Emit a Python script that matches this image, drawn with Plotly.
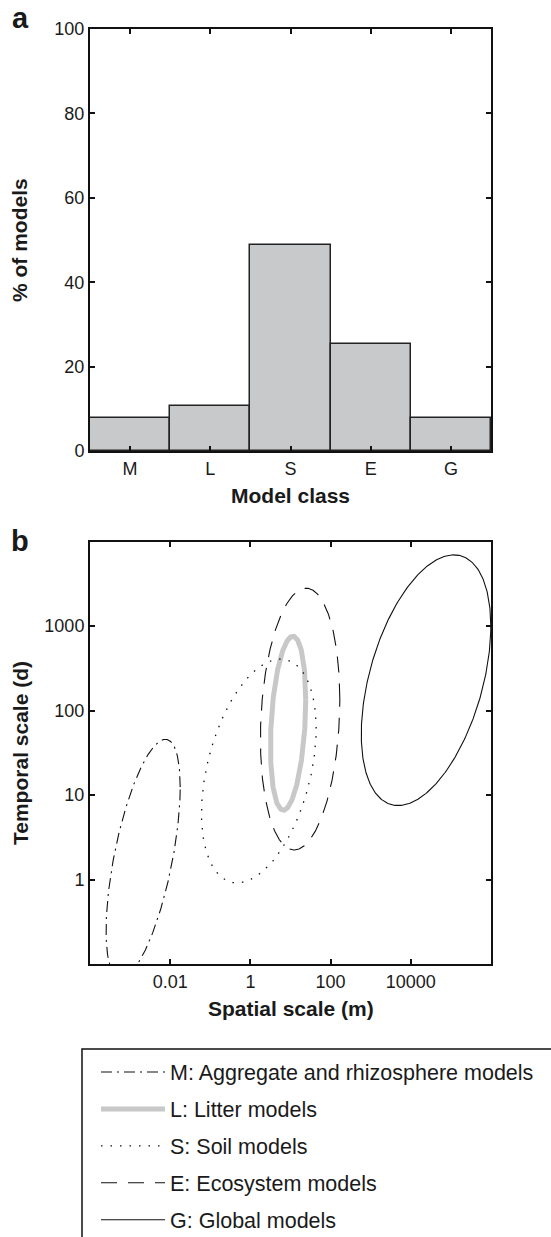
import numpy as np
import plotly.graph_objects as go

# ---------------- data ----------------
classes = ["M", "L", "S", "E", "G"]
percent_models = [7.9, 10.7, 48.7, 25.4, 7.9]

legend_names = [
    "M: Aggregate and rhizosphere models",
    "L: Litter models",
    "S: Soil models",
    "E: Ecosystem models",
    "G: Global models",
]
# ellipse parameters (log10 units)
center_log_space = [-2.675, 0.94, 0.21, 1.24, 4.38]
center_log_time = [0.245, 1.85, 1.285, 1.90, 2.36]
half_width_log_space = [0.925, 0.44, 1.43, 0.99, 1.615]
half_height_log_time = [1.415, 1.03, 1.325, 1.55, 1.484]
tilt_corr = [0.60, 0.27, 0.38, 0.15, 0.43]

x_tick_vals = [0.01, 1, 100, 10000]
x_tick_text = ["0.01", "1", "100", "10000"]
y_tick_vals = [1, 10, 100, 1000]
y_tick_text = ["1", "10", "100", "1000"]
pct_ticks = [0, 20, 40, 60, 80, 100]

# ---------------- styles ----------------
line_styles = [
    dict(color="#111", width=1.1, dash="11px,5px,2px,5px"),
    dict(color="#c8c8c8", width=5),
    dict(color="#111", width=1.3, dash="1.5px,8px"),
    dict(color="#111", width=1.1, dash="16px,11px"),
    dict(color="#111", width=1.1),
]

W, H = 551, 1237
FONT = "Arial, 'Liberation Sans', sans-serif"
TXT = "#1a1a1a"


def fx(p):
    return p / W


def fy(p):
    return 1 - p / H


fig = go.Figure()

fig.add_trace(go.Bar(
    x=classes, y=percent_models, xaxis="x", yaxis="y",
    marker=dict(color="#c8c9cb", line=dict(color="#222", width=1.5)),
    showlegend=False, hoverinfo="skip",
))

t = np.linspace(0, 2 * np.pi, 401)
for i, name in enumerate(legend_names):
    r = tilt_corr[i]
    lx = center_log_space[i] + half_width_log_space[i] * np.cos(t)
    ly = center_log_time[i] + half_height_log_time[i] * (r * np.cos(t) + np.sqrt(1 - r * r) * np.sin(t))
    fig.add_trace(go.Scatter(
        x=10 ** lx, y=10 ** ly, xaxis="x2", yaxis="y2", mode="lines",
        line=line_styles[i], name=name, legendgroup="g%d" % i, hoverinfo="skip",
    ))

axis_common = dict(
    showline=True, linecolor="#111", linewidth=2, mirror="ticks",
    ticks="inside", ticklen=5, tickwidth=1.5, tickcolor="#111",
    showgrid=False, zeroline=False, automargin=False,
    tickfont=dict(family=FONT, size=18, color=TXT),
)

dom_x = [fx(90), fx(491)]


def label(text, px, py, size, angle=0):
    return dict(text=text, x=fx(px), y=fy(py), xref="paper", yref="paper",
                xanchor="center", yanchor="middle", showarrow=False, textangle=angle,
                font=dict(size=size, family=FONT, color=TXT))


fig.update_layout(
    width=W, height=H,
    margin=dict(l=0, r=0, t=0, b=0, autoexpand=False),
    paper_bgcolor="white", plot_bgcolor="white",
    bargap=0,
    font=dict(family=FONT, color=TXT),
    xaxis=dict(domain=dom_x, anchor="y", type="category", range=[-0.5, 4.5], **axis_common),
    yaxis=dict(domain=[fy(451), fy(29)], anchor="x", range=[0, 100], tickvals=pct_ticks, **axis_common),
    xaxis2=dict(domain=dom_x, anchor="y2", type="log", range=[-4, 6],
                tickvals=x_tick_vals, ticktext=x_tick_text, **axis_common),
    yaxis2=dict(domain=[fy(964), fy(541.7)], anchor="x2", type="log", range=[-1, 4],
                tickvals=y_tick_vals, ticktext=y_tick_text, **axis_common),
    legend=dict(
        x=fx(96), y=fy(1051.5), xanchor="left", yanchor="top",
        bgcolor="rgba(0,0,0,0)", borderwidth=0,
        font=dict(family=FONT, size=21.5, color=TXT),
        itemwidth=64, tracegroupgap=6, traceorder="grouped",
    ),
    shapes=[dict(type="rect", xref="paper", yref="paper",
                 x0=fx(82), x1=1.05, y0=-0.05, y1=fy(1049),
                 line=dict(color="#111", width=1.5), fillcolor="rgba(0,0,0,0)", layer="below")],
    annotations=[
        label("<b>a</b>", 20, 18, 29),
        label("<b>b</b>", 20, 541, 29),
        label("<b>Model class</b>", 290.5, 495, 21),
        label("<b>% of models</b>", 20, 240, 21, -90),
        label("<b>Spatial scale (m)</b>", 290.5, 1008, 21),
        label("<b>Temporal scale (d)</b>", 20, 753, 21, -90),
    ],
)

fig.write_html("out.html", config={"displayModeBar": False})
